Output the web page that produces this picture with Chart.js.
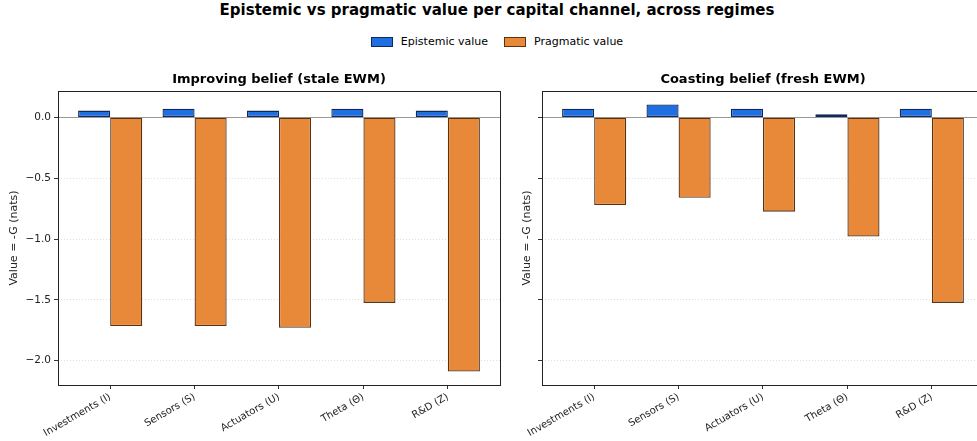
<!DOCTYPE html>
<html>
<head>
<meta charset="utf-8">
<script src="https://cdn.jsdelivr.net/npm/chart.js@4/dist/chart.umd.min.js"></script>
<style>
  html, body { margin: 0; padding: 0; background: #fff; overflow: hidden; }
  body { width: 977px; height: 441px; position: relative; font-family: "DejaVu Sans", sans-serif; color: #000; }
  #suptitle { position: absolute; left: 0; width: 994px; top: 0; text-align: center; font-weight: bold; font-size: 15px; line-height: 20px; }
  #legend { position: absolute; left: 0; width: 994px; top: 34px; display: flex; justify-content: center; font-size: 11px; line-height: 16px; }
  .item { display: flex; align-items: center; margin: 0 8px; }
  .swatch { width: 20px; height: 8px; margin-right: 8px; border: 1px solid; }
  .panel { position: absolute; top: 0; height: 441px; }
</style>
</head>
<body>
<div id="suptitle">Epistemic vs pragmatic value per capital channel, across regimes</div>
<div id="legend"></div>
<div class="panel" style="left:0;width:510px"><canvas id="left"></canvas></div>
<div class="panel" style="left:513px;width:481px"><canvas id="right"></canvas></div>
<script>
// Capital channels on the x axis
const categories = ['Investments (I)', 'Sensors (S)', 'Actuators (U)', 'Theta (\u0398)', 'R&D (Z)'];

// Improving belief regime (stale EWM)
const improvingEpistemic = [0.056, 0.071, 0.056, 0.071, 0.056];
const improvingPragmatic = [-1.715, -1.715, -1.73, -1.525, -2.09];

// Coasting belief regime (fresh EWM)
const coastingEpistemic = [0.071, 0.107, 0.071, 0.025, 0.071];
const coastingPragmatic = [-0.72, -0.66, -0.775, -0.98, -1.525];

// Shared value axis
const yTicks = [0, -0.5, -1.0, -1.5, -2.0];
const yMin = -2.2;
const yMax = 0.217;

const seriesNames = ['Epistemic value', 'Pragmatic value'];
const fills = ['#1f6fe3', '#e8893a'];
const edges = ['#10295a', '#5c3212'];

const FONT = '"DejaVu Sans", sans-serif';
Chart.defaults.font.family = FONT;
Chart.defaults.color = '#222';

// Legend row
const legendEl = document.getElementById('legend');
seriesNames.forEach((name, i) => {
  const item = document.createElement('div');
  item.className = 'item';
  const sw = document.createElement('span');
  sw.className = 'swatch';
  sw.style.background = fills[i];
  sw.style.borderColor = edges[i];
  const label = document.createElement('span');
  label.textContent = name;
  item.appendChild(sw);
  item.appendChild(label);
  legendEl.appendChild(item);
});

const fmt = v => {
  const s = Math.abs(v).toFixed(1);
  return v < 0 ? '\u2212' + s : s;
};

// Frame around the plot area, the zero reference line and the panel title
const framePlugin = {
  id: 'frame',
  beforeDatasetsDraw(chart) {
    const { ctx, chartArea: a, scales } = chart;
    const y0 = Math.round(scales.y.getPixelForValue(0)) + 0.5;
    ctx.save();
    ctx.strokeStyle = '#999';
    ctx.lineWidth = 1.2;
    ctx.beginPath();
    ctx.moveTo(a.left, y0);
    ctx.lineTo(a.right, y0);
    ctx.stroke();
    ctx.restore();
  },
  afterDraw(chart, args, opts) {
    const { ctx, chartArea: a } = chart;
    ctx.save();
    ctx.strokeStyle = '#222';
    ctx.lineWidth = 1;
    ctx.strokeRect(Math.round(a.left) + 0.5, Math.round(a.top) + 0.5,
                   Math.round(a.right - a.left), Math.round(a.bottom - a.top));
    ctx.fillStyle = '#000';
    ctx.font = 'bold 13px ' + FONT;
    ctx.textAlign = 'center';
    ctx.textBaseline = 'middle';
    ctx.fillText(opts.text, (a.left + a.right) / 2, a.top - 11);
    ctx.restore();
  }
};

function makePanel(canvasId, title, epistemic, pragmatic, axisWidth, showYLabels) {
  const toPoints = arr => arr.map((v, i) => ({ x: i, y: v }));
  return new Chart(document.getElementById(canvasId), {
    type: 'bar',
    data: {
      datasets: [
        { label: seriesNames[0], data: toPoints(epistemic), backgroundColor: fills[0], borderColor: edges[0] },
        { label: seriesNames[1], data: toPoints(pragmatic), backgroundColor: fills[1], borderColor: edges[1] }
      ]
    },
    options: {
      responsive: true,
      maintainAspectRatio: false,
      animation: false,
      layout: { padding: { top: 91, right: 10, left: 0, bottom: 0 } },
      datasets: {
        bar: { categoryPercentage: 0.76, barPercentage: 1.0, borderWidth: 1.3, borderSkipped: false }
      },
      plugins: {
        legend: { display: false },
        tooltip: { enabled: false },
        title: { display: false },
        frame: { text: title }
      },
      scales: {
        x: {
          type: 'linear',
          min: -0.618,
          max: 4.618,
          offset: false,
          grid: { display: true, drawOnChartArea: false, offset: false, tickLength: 4, tickColor: '#333', tickWidth: 1 },
          border: { display: false },
          afterBuildTicks: s => { s.ticks = categories.map((_, i) => ({ value: i })); },
          afterFit: s => { s.height = 56; },
          ticks: {
            autoSkip: false,
            maxRotation: 30,
            minRotation: 30,
            padding: 2,
            color: '#222',
            font: { size: 10, family: FONT },
            callback: v => categories[v] ?? ''
          }
        },
        y: {
          min: yMin,
          max: yMax,
          grid: { color: 'rgba(0,0,0,0.16)', lineWidth: 0.8, borderDash: [1, 2], tickBorderDash: [], tickLength: 4, tickColor: '#333', tickWidth: 1 },
          border: { display: false, dash: [1, 2] },
          afterBuildTicks: s => { s.ticks = yTicks.map(v => ({ value: v })); },
          afterFit: s => { s.width = axisWidth; },
          title: {
            display: true,
            text: 'Value = -G (nats)',
            color: '#222',
            font: { size: 11, family: FONT },
            padding: { top: 8, bottom: 0 }
          },
          ticks: {
            padding: 3,
            color: '#222',
            font: { size: 10.5, family: FONT },
            callback: v => showYLabels ? fmt(v) : ''
          }
        }
      }
    },
    plugins: [framePlugin]
  });
}

makePanel('left', 'Improving belief (stale EWM)', improvingEpistemic, improvingPragmatic, 58, true);
makePanel('right', 'Coasting belief (fresh EWM)', coastingEpistemic, coastingPragmatic, 29, false);
</script>
</body>
</html>
